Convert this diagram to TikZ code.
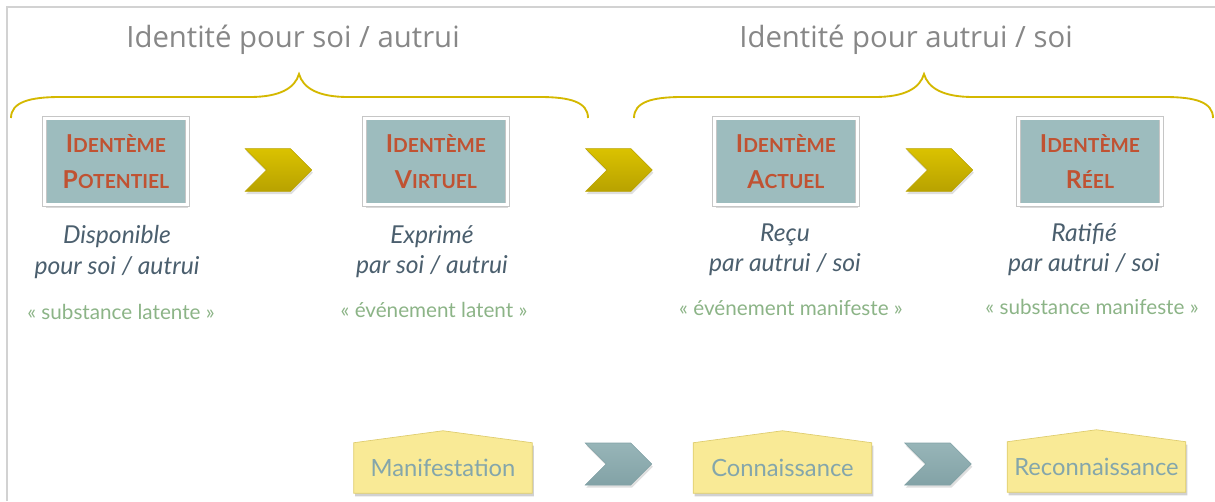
\documentclass[tikz,border=0pt]{standalone}
\usepackage{fontspec}
\setmainfont{Lato}
\newfontfamily\titlefont{Open Sans}
\usetikzlibrary{shapes.symbols,shadows,backgrounds,calc}
\definecolor{framegray}{RGB}{210,210,210}
\definecolor{titlegray}{RGB}{135,135,135}
\definecolor{bracegold}{RGB}{212,184,0}
\definecolor{boxteal}{RGB}{157,188,190}
\definecolor{boxrust}{RGB}{192,82,50}
\definecolor{slate}{RGB}{75,95,110}
\definecolor{quotegreen}{RGB}{140,180,135}
\definecolor{chevgoldA}{RGB}{218,194,0}
\definecolor{chevgoldB}{RGB}{184,162,0}
\definecolor{chevteal}{RGB}{151,181,184}
\definecolor{chevtealB}{RGB}{130,162,166}
\definecolor{houseyellow}{RGB}{249,234,150}
\definecolor{houseedge}{RGB}{222,204,110}
\definecolor{housetext}{RGB}{132,166,171}
\newcommand\scword[2]{{\fontsize{18.5}{20}\selectfont #1}{\fontsize{14.5}{16}\selectfont #2}}
\tikzset{
  idbox/.style={draw=gray!45, double=white, double distance=2.25pt, line width=0.6pt,
    fill=boxteal, minimum width=107pt, minimum height=65pt, inner sep=0pt,
    align=center, text=boxrust, font=\bfseries\fontsize{14.5}{27.5}\selectfont,
    drop shadow={shadow xshift=0.8pt, shadow yshift=-2pt, opacity=0.3}},
  goldchev/.style={signal, signal to=east, signal from=west, signal pointer angle=90,
    minimum width=50pt, minimum height=32pt, inner sep=0pt,
    top color=chevgoldA, bottom color=chevgoldB, draw=chevgoldB, line width=0.4pt,
    drop shadow={shadow xshift=0.8pt, shadow yshift=-2pt, opacity=0.25}},
  tealchev/.style={signal, signal to=east, signal from=west, signal pointer angle=90,
    minimum width=50pt, minimum height=31.5pt, inner sep=0pt,
    top color=chevteal, bottom color=chevtealB, draw=chevtealB, line width=0.4pt,
    drop shadow={shadow xshift=0.8pt, shadow yshift=-2pt, opacity=0.25}},
  house/.style={minimum width=133.5pt, minimum height=37.5pt, inner sep=0pt,
    text=housetext, font=\fontsize{17.8}{20}\selectfont},
  title/.style={anchor=base, text=titlegray, font=\titlefont\fontsize{22}{26}\selectfont},
  desc/.style={anchor=base, text=slate, font=\itshape\fontsize{18.5}{22}\selectfont},
  quote/.style={anchor=base, text=quotegreen, font=\fontsize{15.5}{18}\selectfont},
  brace/.style={draw=bracegold, line width=1.4pt},
}
\begin{document}
\begin{tikzpicture}[x=0.75pt,y=-0.75pt]
\useasboundingbox (0,0) rectangle (1215,501);
\draw[framegray, line width=1.5pt] (7,501) -- (7,7) -- (1215,7);

% titles
\node[title] (t1) at (293,47) {Identité pour soi / autrui};
\node[title] (t2) at (906,47) {Identité pour autrui / soi};

% braces
\draw[brace] (11,118) .. controls (11,102) and (30,97) .. (60,97) -- (250,97)
  .. controls (280,97) and (295,88) .. (299,74)
  .. controls (303,88) and (318,97) .. (348,97) -- (540,97)
  .. controls (570,97) and (588,102) .. (588,118);
\draw[brace] (634,118) .. controls (634,102) and (652,97) .. (682,97) -- (875,97)
  .. controls (905,97) and (920,88) .. (924,74)
  .. controls (928,88) and (943,97) .. (973,97) -- (1165,97)
  .. controls (1195,97) and (1213,102) .. (1213,118);

% identeme boxes
\node[idbox] (b1) at (116,161.5) {\scword{I}{DENTÈME}\\\scword{P}{OTENTIEL}};
\node[idbox] (b2) at (436,161.5) {\scword{I}{DENTÈME}\\\scword{V}{IRTUEL}};
\node[idbox] (b3) at (786,161.5) {\scword{I}{DENTÈME}\\\scword{A}{CTUEL}};
\node[idbox] (b4) at (1090,161.5) {\scword{I}{DENTÈME}\\\scword{R}{ÉEL}};

% gold chevrons
\node[goldchev] (c1) at (278.5,170) {};
\node[goldchev] (c2) at (619,170) {};
\node[goldchev] (c3) at (939.5,170) {};

% descriptions
\node[desc] (d1a) at (117,243) {Disponible};
\node[desc] (d1b) at (117,274) {pour soi / autrui};
\node[desc] (d2a) at (432,243) {Exprimé};
\node[desc] (d2b) at (432,273) {par soi / autrui};
\node[desc] (d3a) at (785,241) {Reçu};
\node[desc] (d3b) at (785,271) {par autrui / soi};
\node[desc] (d4a) at (1084,241) {Ratifié};
\node[desc] (d4b) at (1084,271) {par autrui / soi};

% quotes
\node[quote] (q1) at (121,319) {« substance latente »};
\node[quote] (q2) at (434,317) {« événement latent »};
\node[quote] (q3) at (791,315) {« événement manifeste »};
\node[quote] (q4) at (1092,314) {« substance manifeste »};

% bottom row
\node[house] (h1) at (443,468) {Manifestation};
\node[house] (h2) at (782.5,468) {Connaissance};
\node[house] (h3) at (1096.5,467) {Reconnaissance};
\node[tealchev] (e1) at (618.5,464) {};
\node[tealchev] (e2) at (938,464) {};

\begin{scope}[on background layer]
  \foreach \h in {h1,h2,h3}{
    \fill[black, opacity=0.18] ($(\h.south west)+(1.5,3)$) -- ($(\h.north west)+(1.5,3)$)
      -- ($(\h.north)+(1.5,-9)$) -- ($(\h.north east)+(1.5,3)$) -- ($(\h.south east)+(1.5,3)$) -- cycle;
    \filldraw[fill=houseyellow, draw=houseedge, line width=0.5pt]
      (\h.south west) -- (\h.north west) -- ($(\h.north)+(0,-12)$)
      -- (\h.north east) -- (\h.south east) -- cycle;
  }
\end{scope}
\end{tikzpicture}
\end{document}
